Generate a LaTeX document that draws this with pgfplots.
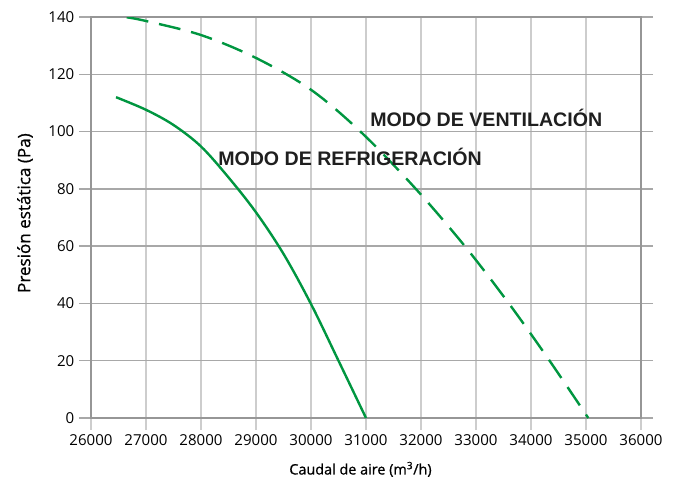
\documentclass[border=0pt]{standalone}
\usepackage{pgfplots}
\pgfplotsset{compat=1.18}
\usepackage{fontspec}
\setmainfont{Open Sans}
\newfontfamily\annfont{Liberation Sans}
\newfontfamily\labfont[FakeBold=0.8]{Open Sans}
\definecolor{curve}{RGB}{0,150,64}
\definecolor{hgrid}{RGB}{168,168,168}
\definecolor{vgrid}{RGB}{205,205,205}
\definecolor{frame}{RGB}{150,150,150}
\begin{document}
\begin{tikzpicture}
\path[use as bounding box] (-68.25pt,-46.5pt) rectangle (438.75pt,313.5pt);
\begin{axis}[
  scale only axis,
  width=412.5pt, height=300.75pt,
  xmin=26000, xmax=36000, ymin=0, ymax=140,
  xtick={26000,27000,...,36000},
  ytick={0,20,...,140},
  scaled ticks=false,
  /pgf/number format/assume math mode=true,
  x tick label style={/pgf/number format/1000 sep={}, font=\fontsize{11.3}{13}\selectfont},
  y tick label style={font=\fontsize{11.3}{13}\selectfont},
  grid=major,
  major x grid style={vgrid, line width=1pt},
  major y grid style={hgrid, line width=1pt},
  axis line style={frame, line width=1.2pt},
  tick align=outside,
  major tick length=9pt,
  xtick pos=left,
  ytick pos=both,
  yticklabel pos=left,
  x tick style={vgrid, line width=1pt},
  y tick style={hgrid, line width=1pt},
  xlabel={Caudal de aire (m\textsuperscript{3}/h)},
  ylabel={Presión estática (Pa)},
  xlabel style={font=\labfont\fontsize{10.8}{12}\selectfont, at={(rel axis cs:0.49,-0.128)}, anchor=center},
  ylabel style={font=\labfont\fontsize{12.8}{14}\selectfont, at={(rel axis cs:-0.12,0.511)}, anchor=center},
]
\addplot[curve, line width=1.8pt, smooth, tension=0.55] coordinates {
(26455,112) (27000,107.6) (27500,102.3) (28000,94.8) (28500,84) (29000,71.8) (29500,57.3) (30000,39.8) (30500,20) (31000,0)
};
\addplot[curve, line width=1.8pt, smooth, tension=0.55, dash pattern=on 16.5pt off 8.25pt] coordinates {
(26649,139.9) (27000,138.6) (28000,133.7) (29000,125.7) (30000,114.6) (30921,99.6) (31891,80.3) (32776,60.5) (33567,40.8) (34309,20.8) (35042,0)
};
\node[anchor=west, font=\annfont\bfseries\fontsize{14.7}{16}\selectfont, text=black!88, inner sep=0pt] at (axis cs:31073,104.6) {MODO DE VENTILACIÓN};
\node[anchor=west, font=\annfont\bfseries\fontsize{14.7}{16}\selectfont, text=black!88, inner sep=0pt] at (axis cs:28309,91) {MODO DE REFRIGERACIÓN};
\end{axis}
\end{tikzpicture}
\end{document}
